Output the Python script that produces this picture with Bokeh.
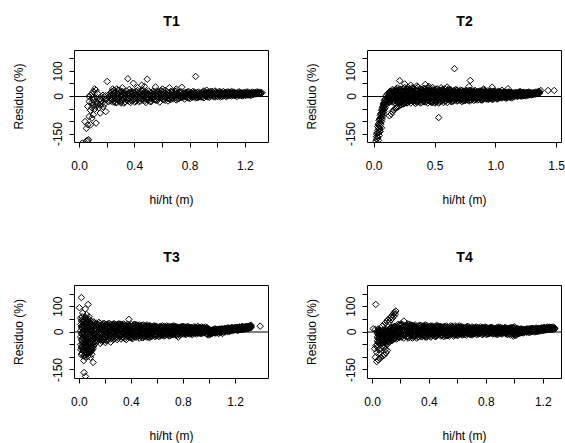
from bokeh.plotting import figure
from bokeh.layouts import gridplot
from bokeh.models import FixedTicker, Span, Range1d, ColumnDataSource, Title
from bokeh.embed import file_html
from bokeh.resources import INLINE

# ---------------- data ----------------
# ---- T1
t1_tail = [(0.02, -186), (0.05, -178), (0.06, -176), (0.065, -172),
           (0.04, -100), (0.05, -127), (0.06, -113), (0.08, -113), (0.12, -106),
           (0.07, -80), (0.1, -73), (0.15, -66), (0.19, -60), (0.09, -86),
           (0.08, -55), (0.09, -45), (0.1, -35), (0.11, -50), (0.12, -40), (0.13, -30),
           (0.14, -45), (0.15, -35), (0.16, -28), (0.17, -40), (0.18, -30), (0.12, -20),
           (0.14, -15), (0.1, -15), (0.09, -25), (0.11, -8), (0.07, 0), (0.08, 5),
           (0.09, 10), (0.1, 20), (0.11, 30), (0.12, 25), (0.1, -2), (0.13, -5),
           (0.15, -10), (0.16, -18), (0.17, -5), (0.18, 0), (0.19, -12), (0.2, -8),
           (0.21, -20), (0.2, 60), (0.17, 5), (0.19, 3), (0.13, 12), (0.07, -20), (0.06, -40)]
t1_out = [(0.24, 30), (0.25, 25), (0.27, 30), (0.29, 25), (0.31, 35), (0.35, 71), (0.39, 53),
          (0.42, 35), (0.45, 45), (0.47, 40), (0.49, 69), (0.55, 38), (0.6, 30), (0.65, 35),
          (0.7, 30), (0.74, 37), (0.84, 80), (0.92, 25)]
t1_bx = [0.22, 0.24, 0.26, 0.28, 0.30, 0.32, 0.34, 0.36, 0.38, 0.40, 0.42, 0.44, 0.46, 0.48,
         0.50, 0.52, 0.54, 0.56, 0.58, 0.60, 0.62, 0.64, 0.66, 0.68, 0.70, 0.72, 0.74, 0.76,
         0.78, 0.80, 0.82, 0.84, 0.86, 0.88, 0.90, 0.92, 0.94, 0.96, 0.98, 1.00, 1.02, 1.04,
         1.06, 1.08, 1.10, 1.12, 1.14, 1.16, 1.18, 1.20, 1.22, 1.24, 1.26, 1.28, 1.30, 1.32]
t1_by = [[-5, 12, -18, 3], [8, -12, 20, -22], [-3, 15, -25, 5], [10, -15, 25, -8],
         [2, -20, 18, -26], [-10, 12, -26, 4], [6, -14, 22, -2], [15, -8, -20, 28],
         [0, 10, -16, 20], [-6, 14, -22, 5], [8, -12, 24, -3], [18, -6, -18, 2],
         [4, -15, 12, 26], [-9, 16, -24, 7], [10, -4, -14, 22], [3, 14, -20, -8],
         [-2, 18, -12, 8], [12, -16, 22, 0], [-5, 6, -22, 15], [8, -10, 20, 2],
         [-4, 12, -15, 24], [5, -8, 16, -18], [10, -3, 20, -12], [0, 14, -10, 6],
         [12, -6, 22, -14], [4, 16, -8, 9], [8, -4, 18, 0], [-10, 6, 14, 0],
         [10, -5, 18, 3], [2, 15, -8, 8], [12, -3, 20, 5], [6, -6, 14, 0],
         [0, 10, 18, -4], [8, -2, 15, 4], [22, 12, -5, 6], [4, 16, 0, 10],
         [10, -3, 18, 6], [2, 12, 20, 8], [14, -2, 6, 22], [8, 16, 0, 12],
         [4, 18, 10, -2], [12, 2, 20, 8], [6, 16, 0, 14], [10, 4, 18, 8],
         [2, 14, 8, 20], [12, 6, 16, 4], [8, 0, 14, 10], [4, 12, 8, 18],
         [10, 2, 14, 6], [6, 16, 10, 4], [12, 8, 18, 6], [8, 14, 10, 4],
         [10, 16, 12, 8], [14, 10, 18], [12, 16], [15]]
t1_cx = [0.23, 0.25, 0.27, 0.29, 0.31, 0.33, 0.35, 0.37, 0.39, 0.41, 0.43, 0.45, 0.47, 0.49,
         0.51, 0.53, 0.55, 0.57, 0.59, 0.61, 0.63, 0.65, 0.67, 0.69, 0.71, 0.73, 0.75, 0.77,
         0.79, 0.81, 0.83, 0.85, 0.87, 0.89, 0.91, 0.93, 0.95, 0.97, 0.99, 1.01, 1.03, 1.05,
         1.07, 1.09, 1.11, 1.13, 1.15, 1.17, 1.19, 1.21, 1.23, 1.25, 1.27, 1.29, 1.31]
t1_cy = [[-12, 6, 18], [2, -20, 14], [-8, 10, -24], [16, -4, -18], [-14, 6, 20], [0, -22, 12],
         [10, -8, -16], [-4, 18, -24], [6, -12, 14], [-18, 2, 20], [12, -6, -20], [-10, 8, 22],
         [2, -18, 16], [-6, 12, -14], [16, 0, -20], [-8, 8, 20], [4, -14, 12], [-2, 18, -10],
         [10, -6, 22], [0, 14, -12], [8, -4, 18], [-10, 4, 14], [6, 18, -6], [-4, 10, 20],
         [8, -10, 14], [2, 18, -4], [12, -2, 6], [0, 16, 8], [-6, 10, 20], [6, -2, 14],
         [12, 2, 18], [-4, 8, 16], [4, 14, 0], [10, -2, 18], [2, 12, 8], [16, 6, -2],
         [4, 14, 20], [10, 0, 16], [6, 18, 2], [12, 4, 20], [8, 16, 0], [14, 4, 10],
         [2, 12, 18], [8, 16, 4], [12, 6, 18], [4, 14, 10], [10, 18, 6], [14, 4, 12],
         [8, 16, 10], [12, 6, 18], [10, 14, 6], [12, 18, 8], [14, 10, 16], [12, 18], [16, 14]]

# ---- T2
t2_tail = [(0.015, -178), (0.02, -170), (0.025, -160), (0.02, -150), (0.03, -145), (0.03, -135),
           (0.035, -125), (0.04, -140), (0.04, -115), (0.045, -105), (0.05, -95), (0.05, -120),
           (0.055, -85), (0.06, -75), (0.06, -100), (0.065, -65), (0.07, -55), (0.07, -80),
           (0.075, -45), (0.08, -38), (0.08, -60), (0.085, -30), (0.09, -22), (0.09, -45),
           (0.1, -15), (0.1, -30), (0.11, -8), (0.11, 10), (0.12, 0), (0.12, -20), (0.13, 15),
           (0.125, -77), (0.14, -70), (0.15, -60), (0.17, -50), (0.19, -42), (0.21, -36),
           (0.23, -30), (0.25, -27), (0.16, -55), (0.18, -45), (0.2, -40), (0.22, -33),
           (0.24, -30), (0.27, -25), (0.045, -130), (0.055, -110), (0.065, -90), (0.075, -70),
           (0.085, -50), (0.095, -35), (0.105, -20), (0.115, -5), (0.1, 5),
           (0.02, -160), (0.025, -145), (0.03, -120), (0.035, -110), (0.04, -95), (0.045, -88),
           (0.05, -75), (0.055, -68), (0.06, -55), (0.065, -48), (0.07, -40), (0.075, -30),
           (0.08, -25), (0.085, -15), (0.09, -10), (0.03, -165), (0.04, -155), (0.035, -175),
           (0.05, -140), (0.06, -125)]
t2_out = [(0.21, 63), (0.25, 50), (0.30, 45), (0.35, 42), (0.42, 48), (0.45, 40), (0.55, 35),
          (0.60, 38), (0.66, 111), (0.53, -84), (0.79, 64), (0.78, 40), (0.97, 37), (1.10, 31),
          (0.90, 30), (1.05, 25), (1.20, 20), (1.37, 24), (1.43, 24), (1.48, 24), (1.35, 20)]
t2_bx = [0.12, 0.14, 0.16, 0.18, 0.20, 0.22, 0.24, 0.26, 0.28, 0.30, 0.32, 0.34, 0.36, 0.38,
         0.40, 0.42, 0.44, 0.46, 0.48, 0.50, 0.52, 0.54, 0.56, 0.58, 0.60, 0.62, 0.64, 0.66,
         0.68, 0.70, 0.72, 0.74, 0.76, 0.78, 0.80, 0.82, 0.84, 0.86, 0.88, 0.90, 0.92, 0.94,
         0.96, 0.98, 1.00, 1.02, 1.04, 1.06, 1.08, 1.10, 1.12, 1.14, 1.16, 1.18, 1.20, 1.22,
         1.24, 1.26, 1.28, 1.30, 1.32, 1.34, 1.36]
t2_by = [[5, -10, 15, -25, 0], [10, -15, 20, -5, 2], [-8, 18, -20, 25, 6], [12, -18, 22, -4, 30],
         [-12, 24, 4, -26, 15], [8, -20, 28, -6, 18], [-15, 20, 2, 32, -28], [14, -10, 26, -24, 4],
         [-4, 22, -18, 10, 36], [16, -26, 6, 28, -12], [-8, 20, -20, 2, 34], [12, -14, 26, -28, 4],
         [-2, 24, -22, 14, 38], [18, -10, 30, -26, 6], [-16, 10, 26, -4, 22], [6, -22, 20, 30, -8],
         [24, -14, 2, 32, -26], [-6, 16, -20, 28, 8], [12, -24, 22, -2, 36], [-12, 18, 4, -26, 26],
         [20, -8, 30, -20, 2], [-4, 14, -22, 24, 8], [16, -16, 6, 28, -10], [-2, 22, -18, 12, 30],
         [10, -12, 24, -24, 4], [-8, 18, -16, 2, 28], [14, -6, 22, -20, 8], [-14, 18, 4, -4, 24],
         [10, -18, 24, -8, 26], [-4, 14, -14, 20, 6], [16, -10, 2, 24, -20], [-6, 12, -16, 20, 8],
         [14, -2, 22, -12, 4], [-8, 16, 6, -18, 24], [10, -14, 20, -2, 12], [-6, 16, 2, -16, 22],
         [12, -10, 18, 4, -4], [0, 20, -12, 8, 14], [16, -6, 10, -14, 22], [4, 18, -8, 12, 26],
         [-10, 14, 6, 20, -2], [12, -4, 18, 2, -12], [8, 16, -8, 22, 0], [14, -2, 10, 20, -10],
         [6, 18, -6, 12, 2], [16, 0, 10, -8, 20], [4, 14, -4, 8, 18], [12, -2, 16, 6, 0],
         [8, 18, 2, -6, 12], [4, 14, -2, 10, 18], [10, 0, 16, 6, -4], [4, 14, 8, -2, 12],
         [12, 2, 16, 6], [6, 14, 0, 10], [14, 4, 10, 18], [8, 12, 2, 16],
         [12, 6, 14, 4], [10, 14, 6, 12], [8, 12, 16, 10], [12, 8, 14],
         [10, 14, 12], [12, 16], [14, 20]]
t2_cx = [0.13, 0.15, 0.17, 0.19, 0.21, 0.23, 0.25, 0.27, 0.29, 0.31, 0.33, 0.35, 0.37, 0.39,
         0.41, 0.43, 0.45, 0.47, 0.49, 0.51, 0.53, 0.55, 0.57, 0.59, 0.61, 0.63, 0.65, 0.67,
         0.69, 0.71, 0.73, 0.75, 0.77, 0.79, 0.81, 0.83, 0.85, 0.87, 0.89, 0.91, 0.93, 0.95,
         0.97, 0.99, 1.01, 1.03, 1.05, 1.07, 1.09, 1.11, 1.13, 1.15, 1.17, 1.19, 1.21, 1.23,
         1.25, 1.27, 1.29, 1.31, 1.33, 1.35]
t2_cy = [[-12, 8, 20, -2, -20], [4, -22, 14, 28, -8], [16, -4, -26, 8, 24], [-10, 20, 2, -20, 34],
         [6, -16, 30, 12, -24], [-6, 26, -14, 14, 4], [20, -22, 8, 36, -4], [2, -16, 18, -26, 30],
         [-10, 8, 28, -20, 14], [22, 0, -16, 34, -6], [6, -24, 16, -10, 28], [-14, 12, 32, 0, -22],
         [10, -6, 22, -18, 4], [-2, 28, -14, 16, -24], [18, -20, 6, 32, -8], [-10, 14, 26, 0, -20],
         [6, -16, 22, -4, 34], [20, -8, -24, 12, 2], [-2, 26, -18, 8, 16], [14, -12, 30, -22, 0],
         [2, 20, -14, 10, -26], [-8, 24, 6, -18, 16], [12, -2, 26, -24, 4], [4, -18, 18, 8, -8],
         [-12, 22, 0, 14, 30], [18, -10, 6, -20, 26], [0, 14, -18, 22, 10], [8, -8, 28, -14, 16],
         [-16, 4, 20, -4, 12], [10, -14, 18, 2, 26], [2, 22, -10, 8, -18], [16, -6, 12, -16, 24],
         [6, -12, 20, 0, 14], [-4, 16, 4, -14, 24], [12, -8, 22, 6, -2], [2, 18, -12, 10, 24],
         [14, -4, 8, -14, 20], [4, 14, -6, 22, 10], [-8, 10, 2, 18, -14], [8, 20, -4, 14, 0],
         [16, 2, -10, 10, 22], [4, 14, -6, 20, 8], [-4, 12, 2, 18, -12], [10, -6, 16, 4, 22],
         [2, 12, -10, 18, 8], [10, -4, 14, 2, 20], [6, 16, -6, 10, 0], [14, 2, 18, -4, 8],
         [0, 10, 16, 6, -6], [8, 14, 2, 18, -2], [12, 4, -6, 16, 8], [6, 14, 0, 10],
         [10, 2, 16, 8], [4, 12, 18, 8], [10, 6, 14, 2], [14, 8, 16, 4],
         [8, 12, 16, 2], [12, 6, 14, 18], [10, 14, 6], [8, 16, 12], [14, 10, 18], [12, 16]]
t2_kx = [0.125, 0.145, 0.165, 0.185, 0.205, 0.225, 0.245, 0.265, 0.285, 0.305, 0.325, 0.345,
         0.365, 0.385, 0.405, 0.425, 0.445, 0.465, 0.485, 0.505, 0.525, 0.545, 0.565, 0.585,
         0.605, 0.625, 0.645, 0.665, 0.685, 0.705, 0.725, 0.745, 0.765, 0.785, 0.805, 0.825,
         0.845, 0.865, 0.885, 0.905, 0.925, 0.945, 0.965, 0.985, 1.005, 1.025, 1.045, 1.065,
         1.085, 1.105, 1.125, 1.145, 1.165, 1.185, 1.205, 1.225, 1.245, 1.265, 1.285, 1.305, 1.325]
t2_ky = [[-8, 6, 18], [12, -14, 0], [-4, 20, -16], [8, -10, 24], [-18, 14, 2], [20, -6, -20],
         [4, 16, -12], [-16, 8, 22], [12, -20, 0], [-6, 20, 6], [16, -14, -2], [0, 22, -18],
         [8, -8, 18], [-12, 12, 2], [18, -2, -20], [2, 14, -10], [-14, 6, 20], [10, -18, 16],
         [-4, 22, 4], [14, -10, -20], [6, 18, -4], [-16, 0, 12], [20, -8, 4], [2, -14, 16],
         [12, -4, 22], [-10, 8, 18], [4, -16, 12], [16, 0, -8], [-6, 12, 20], [8, -12, 2],
         [-2, 16, 10], [12, -8, 20], [0, 8, -14], [14, -4, 18], [4, 12, -10], [-2, 18, 8],
         [10, -8, 16], [2, 14, -4], [8, -12, 18], [0, 12, 6], [14, -4, 8], [4, 16, -8],
         [10, 0, 14], [-2, 8, 18], [12, 2, -6], [6, 14, -2], [10, 0, 16], [2, 12, 8],
         [14, 4, -2], [8, 16, 0], [4, 10, 14], [12, 2, 8], [6, 14, 10], [10, 4, 16],
         [8, 14, 2], [12, 6, 16], [10, 14, 8], [6, 12, 16], [10, 14], [12, 8], [14, 10]]

# ---- T3
t3_tail = [(0.015, 136), (0.0, 96), (0.067, 109), (0.045, 91), (0.055, 69), (0.033, -113),
           (0.105, -120), (0.036, -160), (0.046, -175), (0.025, 75), (0.075, 60)]
t3_tx = [0.01, 0.02, 0.03, 0.04, 0.05, 0.06, 0.07, 0.08, 0.09, 0.10, 0.11, 0.12]
t3_ty = [[55, 30, 5, -20, -50, -70], [60, 40, 15, -10, -35, -60, -85],
         [50, 25, 0, -25, -45, -75], [45, 20, -5, -30, -55, -90],
         [55, 35, 10, -15, -40, -65, -100], [40, 15, -10, -35, -60, -85],
         [45, 20, -5, -25, -50, -75], [35, 10, -15, -40, -65, -80],
         [30, 5, -20, -45, -70, -78], [25, 0, -25, -50, -60, -70],
         [20, 40, -5, -30, -55], [15, -10, -35, 30]]
t3_ux = [0.015, 0.025, 0.035, 0.045, 0.055, 0.065, 0.075, 0.085, 0.095, 0.105, 0.115]
t3_uy = [[45, 20, -5, -30, -60, -90], [50, 28, 2, -22, -48, -70], [40, 12, -12, -38, -62, -95],
         [58, 30, 6, -20, -45, -80], [48, 22, -2, -28, -52, -88], [36, 12, -18, -42, -70, -96],
         [50, 26, 0, -30, -58, -82], [32, 6, -22, -48, -72, -100], [40, 16, -10, -36, -62, -88],
         [28, 4, -18, -42, -64], [22, -2, -26, -48, 36]]
t3_out = [(1.39, 23), (0.38, 50), (0.16, -45), (0.20, -42), (0.24, -40)]
t3_bx = [0.14, 0.16, 0.18, 0.20, 0.22, 0.24, 0.26, 0.28, 0.30, 0.32, 0.34, 0.36, 0.38, 0.40,
         0.42, 0.44, 0.46, 0.48, 0.50, 0.52, 0.54, 0.56, 0.58, 0.60, 0.62, 0.64, 0.66, 0.68,
         0.70, 0.72, 0.74, 0.76, 0.78, 0.80, 0.82, 0.84, 0.86, 0.88, 0.90, 0.92, 0.94, 0.96,
         0.98, 1.00, 1.02, 1.04, 1.06, 1.08, 1.10, 1.12, 1.14, 1.16, 1.18, 1.20, 1.22, 1.24,
         1.26, 1.28, 1.30, 1.32]
t3_by = [[10, -20, 30, -35, 0], [-10, 25, -30, 15, 34], [20, -25, 5, 32, -34], [-5, 30, -20, 10, -32],
         [15, -30, 25, -10, 32], [-15, 20, 0, 30, -28], [25, -5, -30, 12, 32], [-20, 15, 30, -10, 2],
         [8, -25, 28, -5, 32], [-12, 22, 2, -28, 30], [18, -8, 32, -22, 6], [-16, 26, 4, -30, 14],
         [10, -20, 24, -6, 28], [-10, 18, -24, 30, 4], [14, -16, 26, -4, 30], [-20, 8, 22, -10, 28],
         [4, -24, 16, 28, -8], [20, -12, 2, 26, -22], [-6, 14, -18, 24, 6], [12, -20, 22, -2, 28],
         [-14, 18, 4, -22, 26], [10, -8, 20, -16, 0], [16, -12, 24, 2, -18], [-4, 12, -14, 20, 6],
         [14, -8, 22, -16, 4], [0, 18, -12, 10, 24], [12, -6, 20, -14, 2], [-2, 16, 6, -12, 22],
         [14, -8, 20, 2, -14], [4, 18, -10, 12, 24], [10, -4, 16, -12, 22], [-20, 8, 18, -6, 14],
         [12, 0, 20, -10, 6], [4, 16, -8, 10, 22], [14, -4, 18, 2, -10], [6, 16, -6, 12, 20],
         [12, 0, 18, -8, 8], [4, 14, -4, 20, 10], [12, -2, 16, 6, -8], [2, 14, 8, 18, -4],
         [10, -6, 14, 4, 20], [6, 16, -2, 10, 0], [2, 12, -8, 8, 18], [-2, 6, -10, 2, 10],
         [-6, 4, -2, 8], [0, 8, -4, 12], [2, 10, -2, 6], [4, 12, 0, 8],
         [6, -6, 12, 2], [4, 14, 8, 0], [8, 2, 12, 16], [6, 14, 10, 4],
         [10, 6, 16, 12], [8, 14, 18, 12], [10, 16, 12, 6], [14, 10, 18, 12],
         [12, 16, 20, 10], [14, 18, 12, 22], [16, 20, 14, 22], [18, 22, 27]]
t3_cx = [0.13, 0.15, 0.17, 0.19, 0.21, 0.23, 0.25, 0.27, 0.29, 0.31, 0.33, 0.35, 0.37, 0.39,
         0.41, 0.43, 0.45, 0.47, 0.49, 0.51, 0.53, 0.55, 0.57, 0.59, 0.61, 0.63, 0.65, 0.67,
         0.69, 0.71, 0.73, 0.75, 0.77, 0.79, 0.81, 0.83, 0.85, 0.87, 0.89, 0.91, 0.93, 0.95,
         0.97, 0.99, 1.01, 1.03, 1.05, 1.07, 1.09, 1.11, 1.13, 1.15, 1.17, 1.19, 1.21, 1.23,
         1.25, 1.27, 1.29, 1.31]
t3_cy = [[-25, 15, 35, -5, -40], [20, -15, 5, -30, 38], [-2, 28, -22, 12, -36], [24, -10, 34, -28, 6],
         [-18, 8, -34, 22, 30], [4, -24, 16, 34, -12], [-8, 28, -20, 6, 20], [18, -14, 32, -26, 0],
         [-4, 22, -30, 12, 28], [16, -18, 4, 32, -8], [-22, 10, 26, -2, 30], [8, -12, 22, -26, 28],
         [-6, 18, -18, 30, 2], [20, -4, 12, -22, 26], [-2, 24, -16, 8, -26], [14, -8, 30, -20, 4],
         [-12, 20, 0, 26, -18], [10, -4, 24, -16, 18], [-8, 14, 2, -22, 28], [18, -10, 8, 24, -16],
         [0, 20, -12, 14, -20], [12, -4, 22, -18, 6], [-6, 18, 2, -12, 24], [8, -16, 16, 4, 22],
         [18, -4, 8, -18, 12], [4, -12, 22, 10, -2], [-8, 16, 2, 22, -16], [8, -2, 14, -10, 24],
         [0, 20, -16, 6, 12], [10, -10, 18, -2, 22], [-6, 8, 22, 0, 14], [14, 2, -8, 20, -14],
         [4, 18, -4, 10, -12], [10, -6, 16, 2, 22], [-2, 12, 6, 20, -8], [10, -6, 16, 0, 22],
         [2, 14, -8, 10, 18], [8, -2, 16, 4, -10], [14, 0, 20, 6, -6], [6, 16, -2, 10, 22],
         [12, -6, 4, 18, 0], [2, 14, -4, 8, 16], [8, -2, 12, 4, 20], [-4, 6, -12, 2, 12],
         [-8, 0, 6, -4], [-2, 6, 2, 10], [4, -4, 8, 12], [0, 6, 10, -6],
         [2, 8, 12, -2], [6, 12, 0, 10], [10, 4, 14, 6], [8, 12, 16, 2],
         [12, 6, 14, 18], [10, 16, 8, 14], [14, 10, 18, 8], [12, 16, 20, 10],
         [14, 18, 10, 22], [16, 12, 20, 18], [18, 14, 22, 16], [20, 16, 24]]
t3_kx = [0.135, 0.155, 0.175, 0.195, 0.215, 0.235, 0.255, 0.275, 0.295, 0.315, 0.335, 0.355,
         0.375, 0.395, 0.415, 0.435, 0.455, 0.475, 0.495, 0.515, 0.535, 0.555, 0.575, 0.595,
         0.615, 0.635, 0.655, 0.675, 0.695, 0.715, 0.735, 0.755, 0.775, 0.795, 0.815, 0.835,
         0.855, 0.875, 0.895, 0.915, 0.935, 0.955, 0.975, 0.995, 1.015, 1.035, 1.055, 1.075,
         1.095, 1.115, 1.135, 1.155, 1.175, 1.195, 1.215, 1.235, 1.255, 1.275, 1.295, 1.315]
t3_ky = [[-12, 8, 22], [14, -8, -24], [-16, 4, 18], [10, -20, 24], [-4, 16, -14], [20, -10, 6],
         [-18, 12, 0], [6, 22, -16], [-10, 2, 18], [16, -14, 8], [-6, 20, -20], [10, -2, 24],
         [-14, 6, 18], [2, -18, 14], [20, -8, 4], [-10, 14, -2], [8, -14, 22], [-4, 18, 10],
         [14, -6, -16], [2, 20, -10], [-8, 10, 22], [16, -2, 4], [6, -10, 18], [-2, 14, 8],
         [10, -8, 20], [2, 16, -6], [12, -4, 6], [-8, 8, 18], [6, 20, -4], [14, 0, -10],
         [2, 12, 18], [8, -6, 16], [0, 14, 6], [12, -4, 18], [4, 10, -6], [14, 0, 8],
         [6, 16, -4], [10, 2, 14], [-2, 8, 16], [12, 4, -4], [6, 14, 0], [10, -2, 16],
         [4, 12, -6], [-6, 4, 0], [-4, 2, 6], [4, -2, 8], [2, 8, 6], [6, 0, 10],
         [4, 10, 2], [8, 4, 12], [6, 12, 10], [10, 14, 6], [8, 12, 16], [12, 16, 10],
         [14, 10, 18], [12, 18, 14], [16, 12, 20], [18, 14], [16, 20], [20, 18]]

# ---- T4
t4_tail = [(0.164, 83), (0.155, 78), (0.148, 73), (0.14, 66), (0.13, 60), (0.12, 54), (0.11, 49),
           (0.1, 42), (0.09, 36), (0.08, 30), (0.07, 24), (0.16, 70), (0.15, 62), (0.14, 55),
           (0.13, 48), (0.12, 40), (0.023, 109), (0.005, 13), (0.05, 7), (0.02, 10), (0.04, 12),
           (0.03, -117), (0.04, -110), (0.05, -105), (0.06, -100), (0.07, -95), (0.082, -91),
           (0.095, -82), (0.105, -73), (0.09, -70), (0.02, -100), (0.015, -66), (0.026, -53),
           (0.03, -80), (0.035, -60), (0.045, -70), (0.05, -85), (0.06, -65), (0.07, -55),
           (0.08, -60), (0.1, -50), (0.11, -45), (0.12, -40), (0.13, -35), (0.14, -32), (0.15, -28)]
t4_bx = [0.04, 0.05, 0.06, 0.07, 0.08, 0.09, 0.10, 0.11, 0.12, 0.13, 0.14, 0.15,
         0.16, 0.18, 0.20, 0.22, 0.24, 0.26, 0.28, 0.30, 0.32, 0.34, 0.36, 0.38, 0.40, 0.42,
         0.44, 0.46, 0.48, 0.50, 0.52, 0.54, 0.56, 0.58, 0.60, 0.62, 0.64, 0.66, 0.68, 0.70,
         0.72, 0.74, 0.76, 0.78, 0.80, 0.82, 0.84, 0.86, 0.88, 0.90, 0.92, 0.94, 0.96, 0.98,
         1.00, 1.02, 1.04, 1.06, 1.08, 1.10, 1.12, 1.14, 1.16, 1.18, 1.20, 1.22, 1.24, 1.26, 1.28]
t4_by = [[5, -10, -25, -40, 0], [-5, -20, -35, 8], [2, -15, -30, -45], [-8, -22, 5, -38],
         [0, -12, -28, -42], [6, -18, -32, -5], [-2, -14, -26, 8, -40], [4, -10, -22, -35],
         [-6, 8, -18, -30], [2, -12, 14, -25], [10, -6, -20, -32], [-2, 16, -14, 4],
         [8, -12, 22, -26, 0], [-6, 18, -20, 30, 4], [12, -16, 26, -4, 32], [43, -10, 20, -24, 6],
         [14, -18, 2, 28, -8], [-4, 22, -22, 10, 30], [16, -12, 26, -2, -24], [0, 20, -16, 8, 28],
         [12, -8, 24, -20, 4], [-10, 16, -2, 26, -18], [8, -14, 20, 2, 24], [-4, 18, -20, 10, 26],
         [14, -10, 22, -2, -16], [4, 20, -14, 12, 24], [-8, 10, -18, 22, 2], [16, -4, 24, -12, 6],
         [0, 18, -16, 10, 22], [12, -8, 20, -18, 4], [-2, 16, 6, -14, 24], [10, -10, 20, 2, -16],
         [4, 18, -6, 12, 22], [-12, 8, 16, -2, 24], [14, 0, -14, 20, 6], [2, 16, -8, 10, 22],
         [-10, 12, 4, 18, -4], [8, -12, 16, 2, 20], [0, 14, -8, 10, 18], [12, -4, 20, 4, -12],
         [6, 16, -6, 10, 0], [-8, 12, 2, 18, -2], [10, -4, 14, 4, 20], [2, 16, -8, 8, 12],
         [12, -2, 18, 4, -10], [6, 14, -6, 10, 0], [10, -4, 16, 2, 18], [0, 12, -8, 8, 14],
         [8, -2, 16, 4, -10], [12, 2, -6, 18, 6], [4, 14, -4, 10, 0], [10, -2, 16, 6, -8],
         [2, 14, -6, 8, 12], [12, 0, 18, -8, 6], [-10, 10, 20, -14, 2], [6, -8, 14, -2],
         [-4, 8, 0, 12], [2, 10, -4, 6], [6, 0, 12, 2], [4, 12, -2, 8],
         [8, 2, 14, 6], [4, 12, 8, 0], [10, 6, 14, 2], [8, 14, 4, 12],
         [12, 6, 16, 10], [10, 16, 8, 14], [14, 10, 18, 12], [12, 18, 16, 10], [16, 12, 14]]
t4_cx = [0.035, 0.045, 0.055, 0.065, 0.075, 0.085, 0.095, 0.105, 0.115, 0.125, 0.135, 0.145, 0.155,
         0.17, 0.19, 0.21, 0.23, 0.25, 0.27, 0.29, 0.31, 0.33, 0.35, 0.37, 0.39, 0.41, 0.43,
         0.45, 0.47, 0.49, 0.51, 0.53, 0.55, 0.57, 0.59, 0.61, 0.63, 0.65, 0.67, 0.69, 0.71,
         0.73, 0.75, 0.77, 0.79, 0.81, 0.83, 0.85, 0.87, 0.89, 0.91, 0.93, 0.95, 0.97, 0.99,
         1.01, 1.03, 1.05, 1.07, 1.09, 1.11, 1.13, 1.15, 1.17, 1.19, 1.21, 1.23, 1.25, 1.27]
t4_cy = [[-5, -20, -35, -50, 2], [0, -15, -30, -45, 8], [-8, -24, -38, 4], [2, -12, -28, -42],
         [-4, -18, -34, 8], [4, -10, -24, -38], [-6, -20, -30, 10], [2, -14, -28, -38],
         [10, -4, -16, -28], [0, 16, -10, -24], [6, -14, 18, -26], [-4, 12, -18, 20],
         [4, -10, 22, -24],
         [-14, 10, 24, -2, -28], [6, -22, 14, 28, -8], [-10, 20, 2, -18, 30], [16, -4, 26, -14, 6],
         [-6, 12, -24, 20, 32], [8, -16, 2, 28, -10], [-2, 24, -20, 12, 22], [14, -6, 18, -24, 4],
         [2, 26, -12, 10, -4], [18, -18, 6, 22, -8], [-10, 12, 28, 0, -20], [6, -6, 20, -14, 16],
         [-4, 24, 2, -20, 10], [14, -12, 18, 6, -2], [-10, 4, 20, -16, 26], [8, -8, 14, 22, 0],
         [-4, 20, -12, 6, 14], [16, 2, -8, 22, -16], [4, -14, 12, 18, -2], [-6, 14, 0, 24, 8],
         [12, -10, 18, 2, -16], [2, 20, -4, 10, -12], [8, -8, 16, -2, 24], [-4, 12, 4, 20, -12],
         [14, -2, 8, -10, 18], [4, 16, -6, 10, 22], [-8, 8, 14, 2, -2], [10, -2, 18, 6, -8],
         [2, 14, -10, 8, 20], [12, 0, 16, -6, 6], [-4, 10, 4, 18, -10], [8, 14, -2, 6, 20],
         [0, 12, -8, 16, 4], [10, -4, 8, 18, 2], [4, 14, -6, 10, 0], [12, -2, 6, 16, -8],
         [2, 10, -4, 14, 20], [8, -8, 16, 0, 10], [12, 2, -4, 18, 6], [4, 10, -10, 14, 0],
         [8, -2, 16, 4, -12], [-6, 14, 0, 18, -16], [-12, 2, 12, -4], [4, -6, 10, 0],
         [-2, 8, 2, 12], [4, 10, 0, 8], [8, 2, 12, 4], [6, 12, 0, 10],
         [10, 4, 14, 8], [6, 12, 2, 16], [10, 4, 14, 8], [12, 6, 16, 10],
         [8, 14, 18, 12], [12, 16, 10, 20], [14, 10, 18, 16], [16, 12, 20]]
t4_kx = [0.165, 0.185, 0.205, 0.225, 0.245, 0.265, 0.285, 0.305, 0.325, 0.345, 0.365, 0.385,
         0.405, 0.425, 0.445, 0.465, 0.485, 0.505, 0.525, 0.545, 0.565, 0.585, 0.605, 0.625,
         0.645, 0.665, 0.685, 0.705, 0.725, 0.745, 0.765, 0.785, 0.805, 0.825, 0.845, 0.865,
         0.885, 0.905, 0.925, 0.945, 0.965, 0.985, 1.005, 1.025, 1.045, 1.065, 1.085, 1.105,
         1.125, 1.145, 1.165, 1.185, 1.205, 1.225, 1.245, 1.265]
t4_ky = [[-10, 6, 18], [12, -16, 2], [-6, 18, -20], [8, -12, 22], [-18, 4, 16], [14, -6, 24],
         [2, 18, -16], [-12, 10, 20], [16, -4, -18], [6, 20, -10], [-14, 2, 14], [10, -18, 22],
         [-2, 16, 4], [12, -10, 18], [-6, 8, -16], [4, 20, -4], [14, -12, 8], [-8, 12, 20],
         [8, -2, -14], [16, 2, -8], [-4, 10, 18], [12, -10, 4], [0, 16, -8], [10, -6, 18],
         [-2, 8, 14], [12, -4, 4], [4, 16, -10], [-6, 8, 14], [10, 0, 18], [4, 12, -8],
         [14, -2, 6], [-4, 10, 16], [8, 2, -6], [12, -4, 16], [4, 10, -8], [14, 0, 8],
         [6, -6, 16], [10, 2, -4], [0, 12, 16], [8, -4, 4], [12, 2, 16], [-4, 8, 14],
         [-8, 4, 12], [2, -4, 8], [6, 0, 10], [2, 8, -2], [6, 10, 0], [4, 12, 8],
         [10, 2, 14], [6, 12, 8], [12, 4, 14], [8, 16, 10], [12, 8, 18], [14, 10, 16],
         [12, 18, 14], [16, 12]]

x_ticks_a = [0, 0.2, 0.4, 0.6, 0.8, 1.0, 1.2]
x_labels_a = ["0.0", "", "0.4", "", "0.8", "", "1.2"]
x_ticks_b = [0, 0.5, 1.0, 1.5]
x_labels_b = ["0.0", "0.5", "1.0", "1.5"]
y_ticks = [-150, -100, -50, 0, 50, 100, 150]
y_labels = ["-150", "", "", "0", "", "100", ""]

titles = ["T1", "T2", "T3", "T4"]
x_label = "hi/ht (m)"
y_label = "Residuo (%)"
y_lim = (-183.6, 183.6)

FONT = "Liberation Sans"


def expand(rows_x, rows_y):
    out = []
    for xv, ys in zip(rows_x, rows_y):
        for yv in ys:
            out.append((xv, yv))
    return out


def panel(title, pts, xr, ticks, labels, mb_left, mb_right, mb_top, mb_bottom, fw, fh, gap):
    p = figure(frame_width=fw, frame_height=fh,
               x_range=Range1d(*xr), y_range=Range1d(*y_lim),
               output_backend="svg", toolbar_location=None,
               min_border_left=mb_left, min_border_right=mb_right,
               min_border_top=mb_top, min_border_bottom=mb_bottom,
               x_axis_label=x_label, y_axis_label=y_label)
    p.background_fill_color = "white"
    p.border_fill_color = "white"
    p.outline_line_color = "black"
    p.outline_line_width = 1
    p.xgrid.visible = False
    p.ygrid.visible = False

    # spacer panel next to the frame, then the bold title above it
    p.add_layout(Title(text=" ", text_font=FONT, text_font_size="12px", standoff=gap,
                       text_color="white"), "above")
    p.add_layout(Title(text=title, align="center", text_font=FONT, text_font_size="14px",
                       text_font_style="bold", text_color="black", standoff=0), "above")

    for ax in (p.xaxis[0], p.yaxis[0]):
        ax.axis_line_color = None
        ax.major_tick_line_color = "black"
        ax.major_tick_out = 5
        ax.major_tick_in = 0
        ax.minor_tick_line_color = None
        ax.major_label_text_font = FONT
        ax.major_label_text_font_size = "12px"
        ax.major_label_text_color = "black"
        ax.axis_label_text_font = FONT
        ax.axis_label_text_font_size = "12px"
        ax.axis_label_text_font_style = "normal"
        ax.axis_label_text_color = "black"

    p.xaxis[0].ticker = FixedTicker(ticks=ticks)
    p.xaxis[0].major_label_overrides = {t: l for t, l in zip(ticks, labels)}
    p.xaxis[0].major_label_standoff = 13
    p.xaxis[0].axis_label_standoff = 20

    p.yaxis[0].ticker = FixedTicker(ticks=y_ticks)
    p.yaxis[0].major_label_overrides = {t: l for t, l in zip(y_ticks, y_labels)}
    p.yaxis[0].major_label_orientation = "vertical"
    p.yaxis[0].major_label_standoff = 7
    p.yaxis[0].axis_label_standoff = 25

    p.add_layout(Span(location=0, dimension="width", line_color="black", line_width=1))

    src = ColumnDataSource(data=dict(x=[q[0] for q in pts], y=[q[1] for q in pts]))
    p.scatter("x", "y", source=src, marker="square", size=4.6, angle=0.785398,
              fill_color=None, line_color="black", line_width=1)
    return p


pts1 = t1_tail + t1_out + expand(t1_bx, t1_by) + expand(t1_cx, t1_cy)
pts2 = t2_tail + t2_out + expand(t2_bx, t2_by) + expand(t2_cx, t2_cy) + expand(t2_kx, t2_ky)
pts3 = (t3_tail + expand(t3_tx, t3_ty) + expand(t3_ux, t3_uy) + t3_out
        + expand(t3_bx, t3_by) + expand(t3_cx, t3_cy) + expand(t3_kx, t3_ky))
pts4 = t4_tail + expand(t4_bx, t4_by) + expand(t4_cx, t4_cy) + expand(t4_kx, t4_ky)

p1 = panel(titles[0], pts1, (-0.036, 1.367), x_ticks_a, x_labels_a, 74, 14, 50, 79, 194, 92, 6)
p2 = panel(titles[1], pts2, (-0.055, 1.54), x_ticks_b, x_labels_b, 85, 4, 50, 79, 194, 92, 6)
p3 = panel(titles[2], pts3, (-0.038, 1.454), x_ticks_a, x_labels_a, 74, 14, 64, 65, 194, 93, 5)
p4 = panel(titles[3], pts4, (-0.035, 1.328), x_ticks_a, x_labels_a, 85, 4, 64, 65, 194, 93, 5)

grid = gridplot([[p1, p2], [p3, p4]], toolbar_location=None)

open("out.html", "w").write(file_html(grid, INLINE))
